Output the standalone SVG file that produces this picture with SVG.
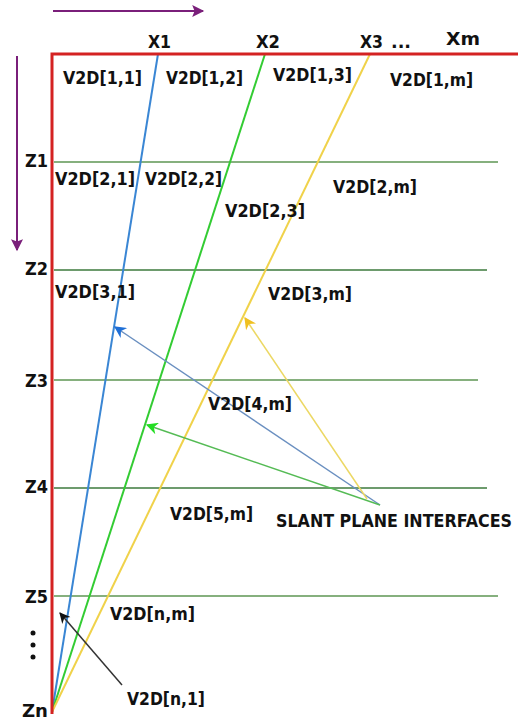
<svg xmlns="http://www.w3.org/2000/svg" width="530" height="721" viewBox="0 0 530 721">
<style>
text{font-family:"DejaVu Sans","Liberation Sans",sans-serif;font-weight:bold;font-size:18px;fill:#111}
.axis{stroke:#d42222;stroke-width:3;fill:none}
.lz1{stroke:#86b07e;stroke-width:2}
.lz2{stroke:#3d7a3d;stroke-width:1.5}
.pur{stroke:#7a1f7a;stroke-width:2;fill:none}
</style>
<defs>
<marker id="mPur" viewBox="0 0 10 10" refX="9" refY="5" markerWidth="20" markerHeight="12" orient="auto" markerUnits="userSpaceOnUse"><path d="M0,0L10,5L0,10L2,5z" fill="#7a1f7a"/></marker>
<marker id="mBlue" viewBox="0 0 10 10" refX="9" refY="5" markerWidth="15" markerHeight="12" orient="auto" markerUnits="userSpaceOnUse"><path d="M0,0L10,5L0,10L3,5z" fill="#1f6fd6"/></marker>
<marker id="mGreen" viewBox="0 0 10 10" refX="9" refY="5" markerWidth="15" markerHeight="12" orient="auto" markerUnits="userSpaceOnUse"><path d="M0,0L10,5L0,10L3,5z" fill="#22dd22"/></marker>
<marker id="mYel" viewBox="0 0 10 10" refX="9" refY="5" markerWidth="15" markerHeight="12" orient="auto" markerUnits="userSpaceOnUse"><path d="M0,0L10,5L0,10L3,5z" fill="#f0c020"/></marker>
<marker id="mBlk" viewBox="0 0 10 10" refX="9" refY="5" markerWidth="14" markerHeight="11" orient="auto" markerUnits="userSpaceOnUse"><path d="M0,0L10,5L0,10L3,5z" fill="#111"/></marker>
</defs>
<rect width="530" height="721" fill="#fff"/>
<g id="direction-arrows">
<line class="pur" x1="53" y1="11" x2="203" y2="11" marker-end="url(#mPur)"/>
<line class="pur" x1="17" y1="56" x2="17" y2="250" marker-end="url(#mPur)"/>
</g>
<g id="layers">
<line class="lz1" x1="54" y1="162" x2="498" y2="162"/>
<line class="lz2" x1="54" y1="270" x2="487" y2="270"/>
<line class="lz1" x1="54" y1="380" x2="478" y2="380"/>
<line class="lz2" x1="54" y1="488" x2="487" y2="488"/>
<line class="lz1" x1="54" y1="596" x2="498" y2="596"/>
</g>
<g id="interfaces">
<line x1="158" y1="54" x2="52" y2="712" stroke="#3a86d4" stroke-width="2"/>
<line x1="265" y1="54" x2="52" y2="712" stroke="#33cc33" stroke-width="2"/>
<line x1="370" y1="54" x2="52" y2="712" stroke="#f0d24a" stroke-width="2"/>
</g>
<g id="axes">
<path class="axis" d="M518,54H52V714"/>
</g>
<g id="connectors">
<line x1="380" y1="505" x2="115" y2="327" stroke="#6a8fc0" stroke-width="1.5" marker-end="url(#mBlue)"/>
<line x1="380" y1="505" x2="147" y2="425" stroke="#55bb55" stroke-width="1.5" marker-end="url(#mGreen)"/>
<line x1="367" y1="499" x2="245" y2="318" stroke="#ecd864" stroke-width="1.5" marker-end="url(#mYel)"/>
<line x1="122" y1="685" x2="60" y2="613" stroke="#333" stroke-width="1.5" marker-end="url(#mBlk)"/>
</g>
<g id="x-labels">
<text x="148" y="48" textLength="23" lengthAdjust="spacingAndGlyphs">X1</text>
<text x="256" y="48" textLength="24" lengthAdjust="spacingAndGlyphs">X2</text>
<text x="360" y="48" textLength="23" lengthAdjust="spacingAndGlyphs">X3</text>
<text x="391" y="48" textLength="20" lengthAdjust="spacingAndGlyphs">...</text>
<text x="446" y="45" textLength="34" lengthAdjust="spacingAndGlyphs">Xm</text>
</g>
<g id="z-labels">
<text x="25" y="167" textLength="23" lengthAdjust="spacingAndGlyphs">Z1</text>
<text x="25" y="275" textLength="23" lengthAdjust="spacingAndGlyphs">Z2</text>
<text x="25" y="387" textLength="23" lengthAdjust="spacingAndGlyphs">Z3</text>
<text x="25" y="493" textLength="23" lengthAdjust="spacingAndGlyphs">Z4</text>
<text x="25" y="603" textLength="23" lengthAdjust="spacingAndGlyphs">Z5</text>
<circle cx="33" cy="633" r="2.5" fill="#111"/>
<circle cx="33" cy="645" r="2.5" fill="#111"/>
<circle cx="33" cy="657" r="2.5" fill="#111"/>
<text x="22" y="717" textLength="26" lengthAdjust="spacingAndGlyphs">Zn</text>
</g>
<g id="cells">
<text x="63" y="84" textLength="79" lengthAdjust="spacingAndGlyphs">V2D[1,1]</text>
<text x="166" y="84" textLength="77" lengthAdjust="spacingAndGlyphs">V2D[1,2]</text>
<text x="273" y="81" textLength="79" lengthAdjust="spacingAndGlyphs">V2D[1,3]</text>
<text x="390" y="86" textLength="83" lengthAdjust="spacingAndGlyphs">V2D[1,m]</text>
<text x="55" y="185" textLength="80" lengthAdjust="spacingAndGlyphs">V2D[2,1]</text>
<text x="145" y="185" textLength="77" lengthAdjust="spacingAndGlyphs">V2D[2,2]</text>
<text x="333" y="193" textLength="84" lengthAdjust="spacingAndGlyphs">V2D[2,m]</text>
<text x="225" y="217" textLength="80" lengthAdjust="spacingAndGlyphs">V2D[2,3]</text>
<text x="55" y="298" textLength="80" lengthAdjust="spacingAndGlyphs">V2D[3,1]</text>
<text x="268" y="300" textLength="84" lengthAdjust="spacingAndGlyphs">V2D[3,m]</text>
<text x="208" y="410" textLength="84" lengthAdjust="spacingAndGlyphs">V2D[4,m]</text>
<text x="170" y="520" textLength="83" lengthAdjust="spacingAndGlyphs">V2D[5,m]</text>
<text x="110" y="620" textLength="85" lengthAdjust="spacingAndGlyphs">V2D[n,m]</text>
<text x="127" y="705" textLength="78" lengthAdjust="spacingAndGlyphs">V2D[n,1]</text>
</g>
<g id="caption">
<text x="276" y="527" font-size="15" textLength="236" lengthAdjust="spacingAndGlyphs">SLANT PLANE INTERFACES</text>
</g>
</svg>
